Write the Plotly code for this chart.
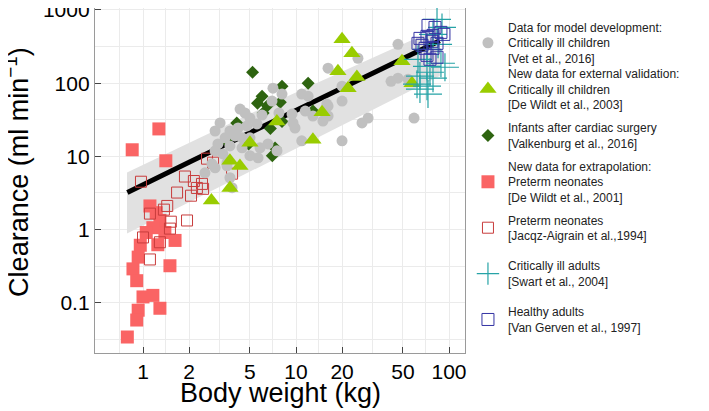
import plotly.graph_objects as go

FONT = "Arial, Liberation Sans, sans-serif"

# --- model fit and prediction band ---
line_wt = [0.79, 1, 2, 5, 10, 20, 50, 87]
line_cl = [3.2, 4.1, 8.3, 21, 42, 85, 215, 380]
band_hi_wt = [0.786, 7.9, 87]
band_hi_cl = [6.0, 60, 578]
band_lo_wt = [0.786, 87]
band_lo_cl = [0.88, 125]

# --- data sets (body weight kg, clearance ml/min) ---
vet_wt = [7.07, 6.97, 8.10, 4.31, 4.64, 6.00, 7.74, 5.00, 3.19, 2.96, 3.70, 4.18, 4.78, 5.56,
          3.99, 3.44, 4.44, 5.00, 3.09, 3.70, 4.44, 5.82, 6.56, 7.51, 2.96, 3.33, 5.00, 5.65,
          2.82, 2.96, 3.54, 2.54, 3.70, 3.82, 9.56, 9.85, 10.9, 10.9, 12.0, 11.5, 12.9, 15.0,
          16.2, 15.9, 46.4, 25.4, 20.0, 20.0, 16.2, 9.42, 16.2, 41.8, 46.4, 54.0, 27.0, 29.6,
          20.0, 59.1, 3.54]
vet_cl = [85.5, 56.9, 70.9, 44.3, 39.1, 36.7, 39.1, 33.4, 28.6, 22.2, 22.2, 24.4, 26.0, 27.7,
          19.0, 17.9, 17.9, 17.9, 14.8, 13.9, 13.1, 13.1, 14.8, 11.9, 11.9, 10.8, 10.2, 9.54,
          7.91, 6.98, 7.43, 5.96, 5.10, 3.73, 28.6, 24.4, 16.3, 70.9, 66.5, 41.6, 35.6, 30.4,
          160, 51.8, 339, 219, 91, 56.9, 48.7, 37.8, 35.6, 106, 117, 113, 28.6, 33.4,
          16.3, 33.4, 8.16]

dewildt03_wt = [20.0, 23.2, 18.8, 25.0, 21.9, 49.3, 57.3, 14.8, 12.9, 7.5, 5.0, 3.7, 4.3, 3.7, 2.8]
dewildt03_cl = [397, 256, 146, 121, 85, 199, 100, 40, 16.8, 30, 15.3, 8.7, 7.4, 3.7, 2.5]

valk_wt = [5.2, 12.0, 8.1, 5.6, 6.5, 6.1, 7.9, 8.1, 6.8, 7.3, 7.0, 4.1, 3.5, 4.9, 12.9, 6.0]
valk_cl = [141, 100, 91, 53, 49, 39, 55, 30, 24, 13, 10.2, 28.6, 16.3, 14.8, 41.6, 66.5]

dewildt01_wt = [1.27, 0.85, 1.41, 1.11, 1.22, 1.29, 1.16, 1.62, 1.25, 0.96, 0.93, 0.86, 1.50,
                0.91, 1.00, 1.16, 1.29, 0.93, 0.91, 0.79, 1.05, 1.39]
dewildt01_cl = [23.7, 12.3, 8.7, 2.1, 1.7, 1.33, 1.06, 0.71, 0.62, 0.61, 0.42, 0.29, 0.32,
                0.20, 0.12, 0.126, 0.084, 0.079, 0.058, 0.034, 0.91, 0.91]

jacqz_wt = [0.97, 1.88, 2.15, 2.43, 2.47, 2.87, 1.67, 2.06, 1.44, 1.11, 1.52, 1.94, 1.50, 1.00,
            1.29, 1.11, 2.62, 3.82, 1.37, 2.25]
jacqz_cl = [4.5, 5.3, 4.6, 4.2, 3.6, 8.2, 3.2, 2.9, 2.1, 1.65, 1.28, 1.33, 1.03, 0.78,
            0.67, 0.39, 9.3, 5.8, 1.87, 3.7]

swart_wt = [83.5, 90.0, 78.6, 84.8, 71.8, 62.7, 88.6, 71.8, 75.1, 64.6, 78.6, 61.8, 71.8, 64.6, 72.9, 94.1]
swart_cl = [743, 578, 464, 339, 290, 212, 187, 170, 141, 125, 117, 97, 91, 83, 71, 165]

gerven_wt = [72.9, 81.0, 88.6, 64.6, 71.8, 78.6, 62.7, 77.4, 83.5, 69.7, 78.6, 71.8, 75.1, 83.5, 92.7, 66.6]
gerven_cl = [615, 578, 494, 409, 436, 450, 350, 373, 350, 299, 299, 240, 212, 226, 464, 329]

# --- axis ticks / grid ---
x_major = [1, 2, 5, 10, 20, 50, 100]
x_small = [0.5, 0.6, 0.7, 0.8, 0.9, 3, 4, 6, 7, 8, 9, 30, 40, 60, 70, 80, 90]
y_major = [0.1, 1, 10, 100, 1000]
y_labels = ["0.1", "1", "10", "100", "1000"]
y_small = [k * 10.0 ** d for d in range(-2, 3) for k in range(2, 10)]
x_mid = [0.707, 1.41, 3.16, 7.07, 14.1, 31.6, 70.7]
y_mid = [0.0316, 0.316, 3.16, 31.6, 316]

X_RANGE = [-0.3137, 2.1046]
Y_RANGE = [-1.687, 3.027]

fig = go.Figure()

fig.add_trace(go.Scatter(
    x=band_hi_wt + band_lo_wt[::-1], y=band_hi_cl + band_lo_cl[::-1],
    fill="toself", fillcolor="#E1E1E1", line=dict(width=0), mode="lines",
    hoverinfo="skip", showlegend=False))
fig.add_trace(go.Scatter(x=line_wt, y=line_cl, mode="lines",
                         line=dict(color="black", width=5), showlegend=False))

series = [
    ("New data for extrapolation:<br>Preterm neonates<br>[De Wildt et al., 2001]",
     dewildt01_wt, dewildt01_cl, dict(symbol="square", size=13, color="#FA6464"), "legend4"),
    ("Preterm neonates<br>[Jacqz-Aigrain et al.,1994]",
     jacqz_wt, jacqz_cl, dict(symbol="square-open", size=11, color="#C83C3C",
                              line=dict(width=1, color="#C83C3C")), "legend5"),
    ("Infants after cardiac surgery<br>[Valkenburg et al., 2016]",
     valk_wt, valk_cl, dict(symbol="diamond", size=10, color="#2E6410"), "legend3"),
    ("Data for model development:<br>Critically ill children<br>[Vet et al., 2016]",
     vet_wt, vet_cl, dict(symbol="circle", size=11, color="#C0C0C0"), "legend"),
    ("New data for external validation:<br>Critically ill children<br>[De Wildt et al., 2003]",
     dewildt03_wt, dewildt03_cl, dict(symbol="triangle-up", size=15, color="#99CC00"), "legend2"),
    ("Critically ill adults<br>[Swart et al., 2004]",
     swart_wt, swart_cl, dict(symbol="cross-thin", size=20, color="#26A3A6",
                              line=dict(width=1.2, color="#26A3A6")), "legend6"),
    ("Healthy adults<br>[Van Gerven et al., 1997]",
     gerven_wt, gerven_cl, dict(symbol="square-open", size=12, color="#3434A4",
                                line=dict(width=1, color="#3434A4")), "legend7"),
]
for name, wt, cl, marker, leg in series:
    fig.add_trace(go.Scatter(x=wt, y=cl, mode="markers", name=name, marker=marker, legend=leg))

# the page adds an 8px body margin, so the figure is drawn 8px smaller
leg_y = {"legend": 0.899, "legend2": 0.765, "legend3": 0.629, "legend4": 0.496,
         "legend5": 0.362, "legend6": 0.229, "legend7": 0.096}
legends = {k: dict(x=1.008, xanchor="left", y=v, yanchor="middle", bgcolor="rgba(0,0,0,0)",
                   font=dict(family=FONT, size=12, color="#222"), itemsizing="trace")
           for k, v in leg_y.items()}

axis_common = dict(type="log", showline=True, linecolor="#9A9A9A", linewidth=1.3, mirror=True,
                   ticks="inside", ticklen=6, tickcolor="#444", tickwidth=1.3,
                   showgrid=True, gridcolor="#EBEBEB", gridwidth=1, zeroline=False,
                   automargin=False, ticklabeloverflow="allow",
                   tickfont=dict(family=FONT, size=21, color="black"))
# overlay axes only carry the small log ticks
small_common = dict(type="log", showline=False, showgrid=False, zeroline=False,
                    showticklabels=False, ticks="inside", ticklen=3, tickcolor="#444",
                    tickwidth=1.1, automargin=False, tickmode="array")

fig.update_layout(
    width=701, height=403,
    margin=dict(l=87, r=244, t=0, b=58),
    paper_bgcolor="white", plot_bgcolor="white",
    font=dict(family=FONT, color="black"),
    xaxis=dict(**axis_common, range=X_RANGE, tickmode="array", tickvals=x_major,
               ticktext=[str(v) for v in x_major],
               minor=dict(tickmode="array", tickvals=x_mid, ticks="", showgrid=True,
                          gridcolor="#EBEBEB", gridwidth=1)),
    yaxis=dict(**axis_common, range=Y_RANGE, tickmode="array", tickvals=y_major,
               ticktext=y_labels,
               minor=dict(tickmode="array", tickvals=y_mid, ticks="", showgrid=True,
                          gridcolor="#EBEBEB", gridwidth=1)),
    xaxis2=dict(**small_common, overlaying="x", anchor="y", side="bottom",
                range=X_RANGE, tickvals=x_small),
    yaxis2=dict(**small_common, overlaying="y", anchor="x", side="left",
                range=Y_RANGE, tickvals=y_small),
    annotations=[
        dict(text="Body weight (kg)", xref="paper", yref="paper", x=0.5, y=-0.116,
             xanchor="center", yanchor="middle", showarrow=False,
             font=dict(family=FONT, size=27, color="black")),
        dict(text="Clearance (ml min<sup>−1</sup>)", xref="paper", yref="paper", x=-0.2108, y=0.525,
             xanchor="center", yanchor="middle", textangle=-90, showarrow=False,
             font=dict(family=FONT, size=27, color="black")),
    ],
    **legends,
)

fig.write_html("out.html")
